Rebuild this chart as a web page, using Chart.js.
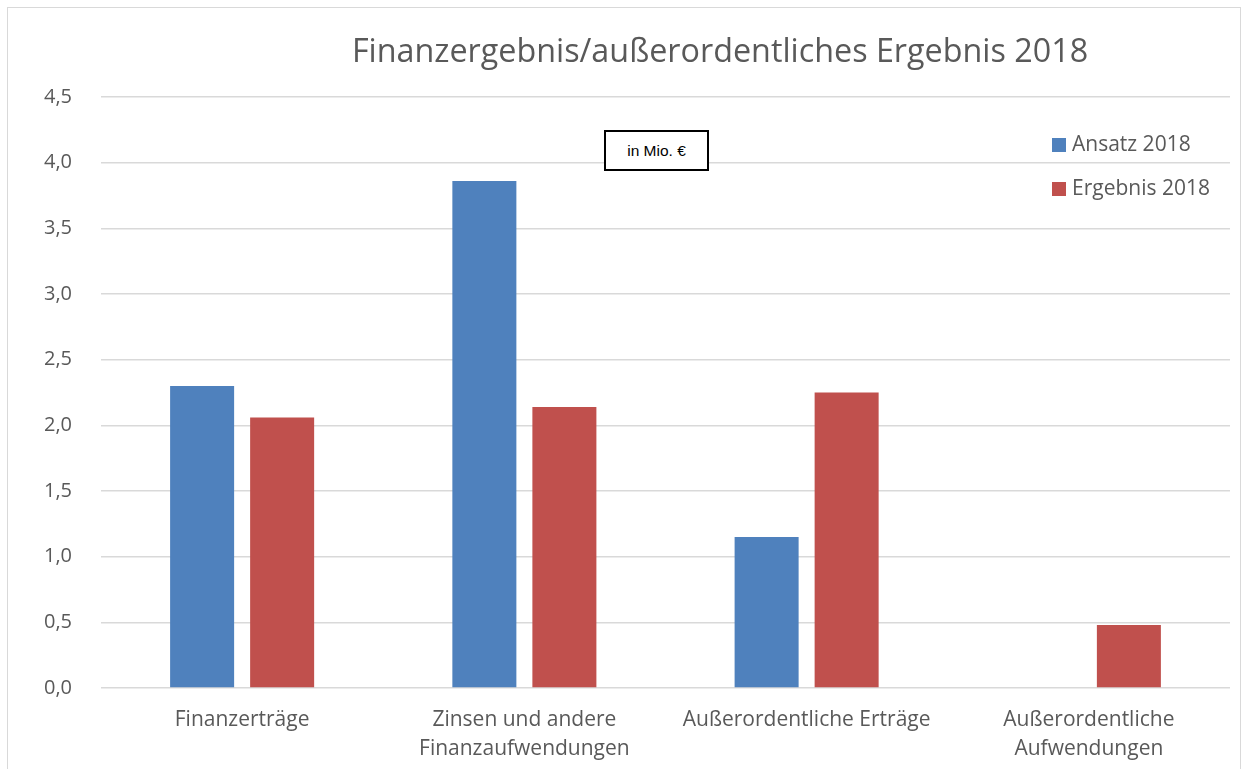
<!DOCTYPE html>
<html lang="de">
<head>
<meta charset="utf-8">
<script src="https://cdn.jsdelivr.net/npm/chart.js@4"></script>
<style>
    html, body { margin: 0; padding: 0; width: 1244px; height: 769px; overflow: hidden; background: #fff; }
    body { position: relative; font-family: "Open Sans", sans-serif; color: #595959; }
    #frame { position: absolute; left: 7px; top: 7px; width: 1234px; height: 800px; border: 1.5px solid #d9d9d9; box-sizing: border-box; }
    #wrap { position: absolute; left: 0; top: 0; width: 1244px; height: 769px; }
    #title { position: absolute; left: 0; width: 1440px; top: 26px; text-align: center; font-size: 32.3px; line-height: 46px; white-space: nowrap; }
    #unit { position: absolute; left: 604px; top: 130px; width: 105px; height: 41px; border: 2px solid #000; box-sizing: border-box; background: #fff;
            font-family: "Liberation Sans", Arial, sans-serif; font-size: 15.5px; color: #000; display: flex; align-items: center; justify-content: center; }
    #legend { position: absolute; left: 1052px; top: 128px; font-size: 21px; }
    #legend div { height: 44px; line-height: 30px; white-space: nowrap; }
    #legend span { display: inline-block; width: 14px; height: 14px; margin-right: 6px; vertical-align: -1px; }
</style>
</head>
<body>
<div id="frame"></div>
<div id="wrap"><canvas id="chart"></canvas></div>
<div id="title">Finanzergebnis/außerordentliches Ergebnis 2018</div>
<div id="unit">in Mio. €</div>
<div id="legend"></div>
<script>
// categories (multi-line labels as arrays)
const categories = [
    "Finanzerträge",
    ["Zinsen und andere", "Finanzaufwendungen"],
    "Außerordentliche Erträge",
    ["Außerordentliche", "Aufwendungen"]
];
const ansatz2018 = [2.30, 3.86, 1.15, 0];
const ergebnis2018 = [2.06, 2.14, 2.25, 0.48];
const seriesNames = ["Ansatz 2018", "Ergebnis 2018"];
const seriesColors = ["#4F81BD", "#C0504D"];

const textColor = "#595959";
const gridColor = "#d9d9d9";

const ctx = document.getElementById("chart").getContext("2d");

const chart = new Chart(ctx, {
    type: "bar",
    data: {
        labels: categories,
        datasets: [
            { label: seriesNames[0], data: ansatz2018, backgroundColor: seriesColors[0], borderWidth: 0 },
            { label: seriesNames[1], data: ergebnis2018, backgroundColor: seriesColors[1], borderWidth: 0 }
        ]
    },
    options: {
        responsive: true,
        maintainAspectRatio: false,
        animation: false,
        datasets: {
            bar: { categoryPercentage: 0.567, barPercentage: 0.8 }
        },
        layout: { padding: { left: 0, top: 97, right: 14, bottom: 0 } },
        plugins: {
            legend: { display: false },
            title: { display: false },
            tooltip: { enabled: false }
        },
        scales: {
            x: {
                grid: { display: false, drawTicks: false },
                border: { display: false },
                ticks: {
                    color: textColor,
                    padding: 18,
                    maxRotation: 0,
                    autoSkip: false,
                    font: { family: "'Open Sans', sans-serif", size: 21, lineHeight: 1.35 }
                },
                afterFit: (scale) => { scale.height = 81; }
            },
            y: {
                min: 0,
                max: 4.5,
                grid: { color: gridColor, lineWidth: 1.5, drawTicks: false },
                border: { display: false },
                ticks: {
                    stepSize: 0.5,
                    color: textColor,
                    padding: 29,
                    font: { family: "'Open Sans', sans-serif", size: 20 },
                    callback: (v) => v.toFixed(1).replace(".", ",")
                },
                afterFit: (scale) => { scale.width = 101; }
            }
        }
    }
});

// legend built from the series
const legendEl = document.getElementById("legend");
seriesNames.forEach((name, i) => {
    const row = document.createElement("div");
    const box = document.createElement("span");
    box.style.background = seriesColors[i];
    row.appendChild(box);
    row.appendChild(document.createTextNode(name));
    legendEl.appendChild(row);
});
</script>
</body>
</html>
